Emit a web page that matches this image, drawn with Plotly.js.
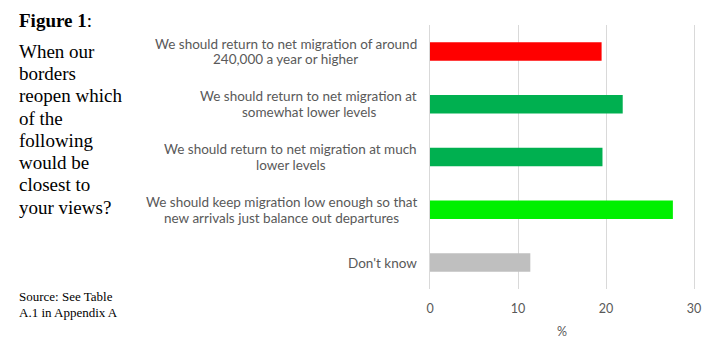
<!DOCTYPE html>
<html>
<head>
<meta charset="utf-8">
<script src="https://cdn.plot.ly/plotly-3.0.1.min.js"></script>
<style>
html,body{margin:0;padding:0;background:#fff;}
#chart{width:718px;height:356px;}
</style>
</head>
<body>
<div id="chart"></div>
<script>
var categories = [
  "We should return to net migration of around<br>240,000 a year or higher",
  "We should return to net migration at<br>somewhat lower levels",
  "We should return to net migration at much<br>lower levels",
  "We should keep migration low enough so that<br>new arrivals just balance out departures",
  "Don't know"
];
var values = [19.5, 21.9, 19.6, 27.6, 11.4];
var barColors = ["#FF0000", "#00B050", "#00B050", "#00F000", "#BFBFBF"];
var tickVals = [0, 10, 20, 30];
var tickLabels = ["0", "10", "20", "30"];
var xTitle = "%";
var figureLabel = "<b>Figure 1</b>:";
var questionLines = ["When our", "borders", "reopen which", "of the", "following", "would be", "closest to", "your views?"];
var sourceLines = ["Source: See Table", "A.1 in Appendix A"];

var W = 718, H = 356;
var M = {l: 429.5, r: 23.5, t: 24.5, b: 67};
var PW = W - M.l - M.r, PH = H - M.t - M.b;
function px(x){ return (x - M.l) / PW; }
function py(y){ return 1 - (y - M.t) / PH; }

var serif = "Liberation Serif, Times New Roman, serif";
var sans = "Lato, Liberation Sans, Arial, sans-serif";
var labelSize = 13.5;
var labelGap = 13;     // px between label block and axis
var lineStep = 15.5;   // px between label lines

var canvas = document.createElement("canvas");
var ctx = canvas.getContext("2d");
ctx.font = labelSize + "px Lato";
function textW(s){ return ctx.measureText(s.replace(/&#39;/g, "'")).width; }

var annotations = [];
categories.forEach(function(c){
  var lines = c.split("<br>");
  var maxW = Math.max.apply(null, lines.map(textW));
  lines.forEach(function(ln, i){
    var off = (i - (lines.length - 1) / 2) * lineStep;
    annotations.push({
      xref: "paper", yref: "y", x: 0, y: c, xanchor: "center", yanchor: "middle",
      xshift: -(labelGap + maxW / 2), yshift: -off, text: ln, showarrow: false,
      font: {family: sans, size: labelSize, color: "#595959"}
    });
  });
});
annotations.push({
  xref: "paper", yref: "paper", x: px(15), y: py(20), xanchor: "left", yanchor: "middle",
  text: figureLabel, showarrow: false, font: {family: serif, size: 19, color: "#000"}
});
questionLines.forEach(function(t, i){
  annotations.push({
    xref: "paper", yref: "paper", x: px(15), y: py(51 + i * 22.3), xanchor: "left", yanchor: "middle",
    text: t, showarrow: false, font: {family: serif, size: 19, color: "#000"}
  });
});
sourceLines.forEach(function(t, i){
  annotations.push({
    xref: "paper", yref: "paper", x: px(15), y: py(296.5 + i * 16.5), xanchor: "left", yanchor: "middle",
    text: t, showarrow: false, font: {family: serif, size: 13, color: "#000"}
  });
});

var trace = {
  type: "bar", orientation: "h",
  y: categories, x: values,
  marker: {color: barColors, line: {width: 0}},
  hoverinfo: "x+y"
};

var layout = {
  width: W, height: H,
  margin: {l: M.l, r: M.r, t: M.t, b: M.b, pad: 0},
  paper_bgcolor: "#fff", plot_bgcolor: "#fff",
  showlegend: false,
  bargap: 0.65,
  xaxis: {
    range: [0, 30], tickvals: tickVals, ticktext: tickLabels,
    showgrid: true, gridcolor: "#D9D9D9", gridwidth: 1,
    zeroline: false, showline: false, ticks: "",
    ticklabelstandoff: 10,
    tickfont: {family: sans, size: 12.5, color: "#595959"},
    title: {text: xTitle, font: {family: sans, size: 12.5, color: "#595959"}, standoff: 12}
  },
  yaxis: {
    autorange: "reversed", showticklabels: false, showgrid: false,
    zeroline: false, showline: true, mirror: true, linecolor: "#D9D9D9", linewidth: 1, ticks: ""
  },
  annotations: annotations
};

Plotly.newPlot("chart", [trace], layout, {staticPlot: true, displayModeBar: false});
</script>
</body>
</html>
